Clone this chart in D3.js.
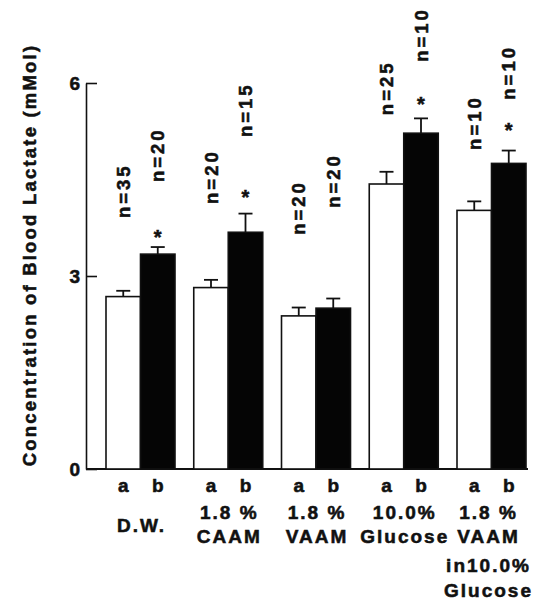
<!DOCTYPE html>
<html><head><meta charset="utf-8">
<script src="https://cdn.jsdelivr.net/npm/d3@7"></script>
<style>
body{margin:0;background:#fff}
text{font-family:"Liberation Sans",Arial,Helvetica,sans-serif;font-weight:bold;fill:#111;stroke:#111;stroke-width:0.55px}
</style>
</head><body><svg id="c" width="535" height="603"></svg>
<script>
// ---- data ----
const groups = ["D.W.","CAAM","VAAM","Glucose","VAAM+Glucose"];
const groupLabels = [["D.W."],["1.8 %","CAAM"],["1.8 %","VAAM"],["10.0%","Glucose"],["1.8 %","VAAM","in10.0%","Glucose"]];
const subgroups = ["a","b"];
const valuesA = [2.68,2.82,2.38,4.43,4.02];
const valuesB = [3.34,3.68,2.50,5.22,4.75];
const errA = [0.09,0.12,0.13,0.19,0.14];
const errB = [0.11,0.29,0.15,0.23,0.20];
const nA = [35,20,20,25,10];
const nB = [20,15,20,10,10];
const nLabelPosA = [3.90,4.12,3.64,5.50,4.96];
const nLabelPosB = [4.46,5.16,4.06,6.33,5.74];
const significantB = [true,true,false,true,true];
const asteriskPosB = [3.67,4.29,null,5.74,5.33];
const yTicks = [0,3,6];
const yTitle = "Concentration of Blood Lactate (mMol)";

// ---- layout ----
const svg = d3.select("#c");
const y = d3.scaleLinear().domain([0,6]).range([469,83]);
const x0 = d3.scaleBand().domain(groups).range([106,526]).paddingInner(0.2137).paddingOuter(0);
const x1 = d3.scaleBand().domain(subgroups).range([0,x0.bandwidth()]);

const rows = [];
groups.forEach((g,i)=>{
  rows.push({g,s:"a",v:valuesA[i],e:errA[i],n:nA[i],np:nLabelPosA[i],star:null});
  rows.push({g,s:"b",v:valuesB[i],e:errB[i],n:nB[i],np:nLabelPosB[i],star:significantB[i]?asteriskPosB[i]:null});
});
const cx = d => x0(d.g)+x1(d.s)+x1.bandwidth()/2;

// y axis
const yAxis = d3.axisLeft(y).tickValues(yTicks).tickFormat(d3.format("d"))
  .tickSizeInner(-11).tickSizeOuter(0).tickPadding(6);
const ga = svg.append("g").attr("transform","translate(86,0)").call(yAxis);
ga.select(".domain").attr("stroke","#111").attr("stroke-width",1.6);
ga.selectAll(".tick line").attr("stroke","#111").attr("stroke-width",1.6);
ga.selectAll(".tick text").style("font-size","19px").attr("fill","#111")
  .style("font-family","'Liberation Sans',Arial,sans-serif").style("font-weight","bold");

// baseline
svg.append("line").attr("x1",86).attr("x2",528).attr("y1",y(0)).attr("y2",y(0))
  .attr("stroke","#111").attr("stroke-width",1.8);

// error bars
const eb = svg.append("g").attr("stroke","#111").attr("stroke-width",1.8);
rows.forEach(d=>{
  eb.append("line").attr("x1",cx(d)).attr("x2",cx(d)).attr("y1",y(d.v)).attr("y2",y(d.v+d.e));
  eb.append("line").attr("x1",cx(d)-7).attr("x2",cx(d)+7).attr("y1",y(d.v+d.e)).attr("y2",y(d.v+d.e));
});

// bars
svg.append("g").selectAll("rect").data(rows).join("rect")
  .attr("x",d=>x0(d.g)+x1(d.s))
  .attr("y",d=>y(d.v))
  .attr("width",x1.bandwidth())
  .attr("height",d=>y(0)-y(d.v))
  .attr("fill",d=>d.s==="a"?"#fff":"#050505")
  .attr("stroke","#111").attr("stroke-width",1.6);

// n labels
svg.append("g").selectAll("text").data(rows).join("text")
  .attr("transform",d=>`translate(${cx(d)},${y(d.np)}) rotate(-90)`)
  .attr("dy","0.36em")
  .style("font-size","18.5px").style("letter-spacing","3px")
  .text(d=>"n="+d.n);

// asterisks
svg.append("g").selectAll("text").data(rows.filter(d=>d.star!=null)).join("text")
  .attr("x",cx).attr("y",d=>y(d.star)).attr("dy","0.55em")
  .attr("text-anchor","middle").style("font-size","20px").text("*");

// subgroup labels
svg.append("g").selectAll("text").data(rows).join("text")
  .attr("x",cx).attr("y",492).attr("text-anchor","middle")
  .style("font-size","19px").text(d=>d.s);

// group labels
const lineY = [519,543,572,597];
groups.forEach((g,i)=>{
  const lines = groupLabels[i];
  lines.forEach((t,j)=>{
    svg.append("text")
      .attr("x",x0(g)+x0.bandwidth()/2 + (i===4?-4:0) + 1)
      .attr("y",lines.length===1?532:lineY[j])
      .attr("text-anchor","middle")
      .style("font-size","19px").style("letter-spacing","2px")
      .text(t);
  });
});

// y title
svg.append("text")
  .attr("transform","translate(29,255) rotate(-90)")
  .attr("dy","0.36em").attr("text-anchor","middle")
  .style("font-size","18.5px").style("letter-spacing","2.2px")
  .text(yTitle);
</script>
</body></html>
